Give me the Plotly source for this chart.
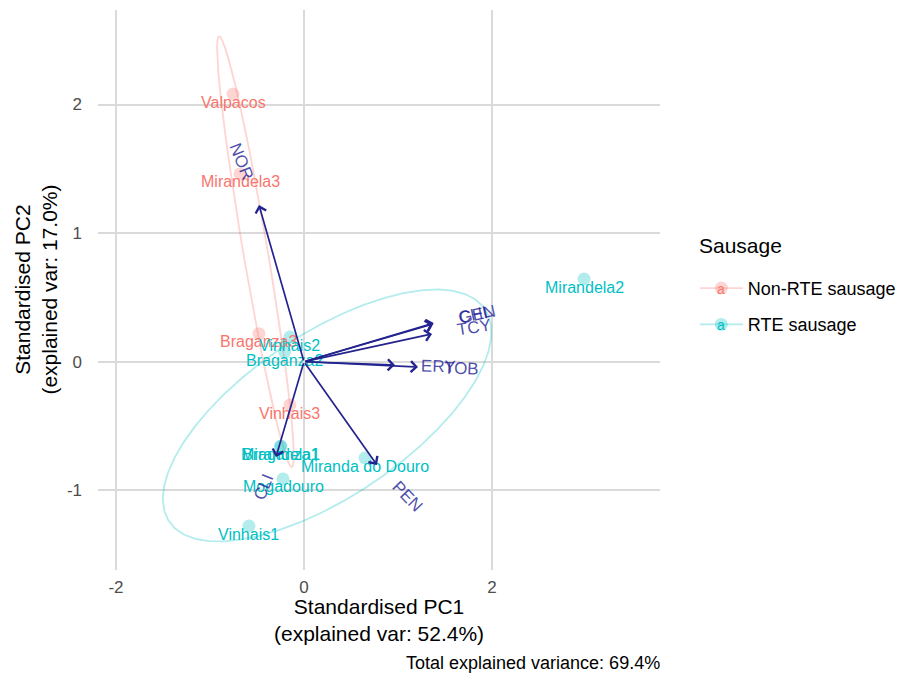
import math
import numpy as np
import plotly.graph_objects as go

# Sample scores on the first two standardised principal components
samples = ["Valpacos", "Mirandela3", "Braganza3", "Vinhais3",
           "Vinhais2", "Braganza2", "Mirandela1", "Braganza1",
           "Mogadouro", "Miranda do Douro", "Vinhais1", "Mirandela2"]
groups = ["Non-RTE sausage"] * 4 + ["RTE sausage"] * 8
pc1 = [-0.755, -0.68, -0.479, -0.15, -0.15, -0.205, -0.245, -0.25,
       -0.223, 0.649, -0.585, 2.979]
pc2 = [2.081, 1.46, 0.218, -0.337, 0.192, 0.075, -0.656, -0.66,
       -0.912, -0.749, -1.278, 0.643]

# Variable loadings (arrow tips)
variables = ["NOR", "CLI", "PEN", "ERY", "TOB", "TCY", "GEN", "CHL"]
load1 = [-0.479, -0.298, 0.777, 0.968, 1.213, 1.362, 1.372, 1.380]
load2 = [1.218, -0.741, -0.803, -0.026, -0.041, 0.216, 0.293, 0.300]

group_names = ["Non-RTE sausage", "RTE sausage"]
group_colors = ["#F8766D", "#00BFC4"]
group_fills = ["rgba(248,118,109,0.3)", "rgba(0,191,196,0.3)"]

x_ticks = [-2, 0, 2]
x_ticktext = ["-2", "0", "2"]
y_ticks = [-1, 0, 1, 2]
y_ticktext = ["-1", "0", "1", "2"]
x_title = "Standardised PC1<br>(explained var: 52.4%)"
y_title = "Standardised PC2<br>(explained var: 17.0%)"
caption = "Total explained variance: 69.4%"
legend_title = "Sausage"

FONT = "Liberation Sans, Arial, sans-serif"
X_RANGE = [-2.191, 3.787]
Y_RANGE = [-1.620, 2.735]
ELLIPSE_PROB = 0.68
VARNAME_ADJUST = 2.5
VAR_SIZE = 17

# Legend placement (paper coordinates)
LEGEND_X = 1.062
LEGEND_Y = 0.536
KEY_X = 1.1085
KEY_Y = [0.5018, 0.4375]

# Approximate Arial advance widths (per 1000 em) for label offsets
CHAR_W = {"A": 667, "B": 667, "C": 722, "D": 722, "E": 667, "F": 611,
          "G": 778, "H": 722, "I": 278, "L": 556, "N": 722, "O": 778,
          "P": 667, "R": 722, "T": 611, "Y": 667}


def text_width(s, size):
    return sum(CHAR_W.get(c, 600) for c in s) / 1000.0 * size


fig = go.Figure()

# 68% normal-theory ellipses per group
theta = np.concatenate([np.linspace(-np.pi, np.pi, 50), np.linspace(np.pi, -np.pi, 50)])
circle = np.column_stack([np.cos(theta), np.sin(theta)])
ed = math.sqrt(-2.0 * math.log(1.0 - ELLIPSE_PROB))
px = np.array(pc1)
py = np.array(pc2)
garr = np.array(groups)
for gname, gfill in zip(group_names, group_fills):
    m = garr == gname
    xy = np.column_stack([px[m], py[m]])
    mu = xy.mean(axis=0)
    sigma = np.cov(xy, rowvar=False)
    upper = np.linalg.cholesky(sigma).T
    ell = circle @ upper * ed + mu
    fig.add_trace(go.Scatter(x=ell[:, 0], y=ell[:, 1], mode="lines",
                             line=dict(color=gfill, width=1.8),
                             showlegend=False, hoverinfo="skip"))

# Sample points
for gname, gfill in zip(group_names, group_fills):
    m = garr == gname
    fig.add_trace(go.Scatter(x=px[m], y=py[m], mode="markers",
                             marker=dict(size=13, color=gfill, line=dict(width=0)),
                             showlegend=False, hoverinfo="skip"))

# Legend keys: line + point
for gname, gcol, gfill in zip(group_names, group_colors, group_fills):
    fig.add_trace(go.Scatter(x=[None], y=[None], mode="lines+markers",
                             name=gname, legendgroup=gname,
                             line=dict(color=gfill, width=1.8),
                             marker=dict(size=13, color=gfill)))

annotations = []

# Sample labels
for s, x, y, g in zip(samples, pc1, pc2, groups):
    col = group_colors[group_names.index(g)]
    annotations.append(dict(x=x, y=y, text=s, showarrow=False, yshift=-8,
                            font=dict(family=FONT, size=16, color=col)))

# Loading arrows
for x, y in zip(load1, load2):
    annotations.append(dict(x=x, y=y, ax=0, ay=0, axref="x", ayref="y",
                            xref="x", yref="y", text="", showarrow=True,
                            arrowhead=4, arrowsize=1.25, arrowwidth=1.7,
                            arrowcolor="#24248f", standoff=0, startstandoff=0))

# Variable names placed beyond the tips, rotated along each loading
for v, x, y in zip(variables, load1, load2):
    ang = math.degrees(math.atan(y / x))
    s = 1.0 if x > 0 else -1.0
    w = text_width(v, VAR_SIZE)
    off = (VARNAME_ADJUST / 2.0) * w
    annotations.append(dict(x=x, y=y, text=v, showarrow=False,
                            xshift=s * off * math.cos(math.radians(ang)),
                            yshift=s * off * math.sin(math.radians(ang)),
                            textangle=-ang,
                            font=dict(family=FONT, size=VAR_SIZE, color="rgba(30,30,150,0.8)")))

# Letter glyphs on the legend keys (text layer of the key)
for gcol, ky in zip(group_colors, KEY_Y):
    annotations.append(dict(xref="paper", yref="paper", x=KEY_X, y=ky, text="a",
                            showarrow=False, xanchor="center", yanchor="middle",
                            font=dict(family=FONT, size=14, color=gcol)))

# Axis titles, caption and legend title
annotations.append(dict(xref="paper", yref="paper", x=0.5, y=-0.0893, yanchor="middle",
                        text=x_title, showarrow=False,
                        font=dict(family=FONT, size=21, color="black")))
annotations.append(dict(xref="paper", yref="paper", x=-0.111, y=0.5, xanchor="center",
                        text=y_title, showarrow=False, textangle=-90,
                        font=dict(family=FONT, size=21, color="black")))
annotations.append(dict(xref="paper", yref="paper", x=1.0, y=-0.166, xanchor="right",
                        yanchor="middle", xshift=2, text=caption, showarrow=False,
                        font=dict(family=FONT, size=18, color="black")))
annotations.append(dict(xref="paper", yref="paper", x=1.066, y=0.580, xanchor="left",
                        yanchor="middle", text=legend_title, showarrow=False,
                        font=dict(family=FONT, size=21, color="black")))

axis_common = dict(showgrid=True, gridcolor="#DADADA", gridwidth=1.6, zeroline=False,
                   showline=False, ticks="", tickfont=dict(family=FONT, size=17, color="#4D4D4D"))

fig.update_layout(
    width=897, height=675,
    margin=dict(l=98, r=237, t=10, b=105, autoexpand=False),
    paper_bgcolor="white", plot_bgcolor="white",
    font=dict(family=FONT),
    xaxis=dict(range=X_RANGE, tickvals=x_ticks, ticktext=x_ticktext,
               ticklabelstandoff=5, automargin=False, **axis_common),
    yaxis=dict(range=Y_RANGE, tickvals=y_ticks, ticktext=y_ticktext,
               ticklabelstandoff=15, automargin=False, **axis_common),
    legend=dict(x=LEGEND_X, y=LEGEND_Y, xanchor="left", yanchor="top",
                font=dict(family=FONT, size=18, color="black"),
                itemwidth=43, tracegroupgap=10, bgcolor="rgba(0,0,0,0)"),
    annotations=annotations,
    showlegend=True,
)

fig.write_html("out.html")
